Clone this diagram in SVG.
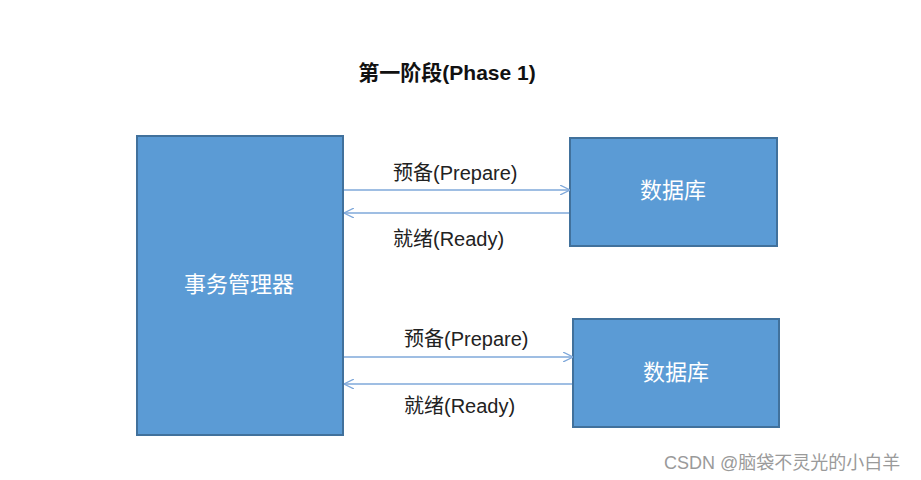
<svg xmlns="http://www.w3.org/2000/svg" width="921" height="480" viewBox="0 0 921 480">
<style>
.box{fill:#5B9BD5;stroke:#41719C;stroke-width:2}
.lbl{font-family:"Liberation Sans","Noto Sans CJK SC",sans-serif;font-size:22px;fill:#FFFFFF;text-anchor:middle}
.msg{font-family:"Liberation Sans","Noto Sans CJK SC",sans-serif;font-size:20px;fill:#222222}
.ln{stroke:#7FA8DA;stroke-width:1.5;fill:none}
</style>
<defs>
<marker id="ah" viewBox="0 0 10 10" refX="10" refY="5" markerWidth="10" markerHeight="10" markerUnits="userSpaceOnUse" orient="auto">
<path d="M0,0 L10,5 L0,10" fill="none" stroke="#7FA8DA" stroke-width="1.3"/>
</marker>
</defs>
<rect width="921" height="480" fill="#FFFFFF"/>
<text x="447" y="80" text-anchor="middle" font-family="Liberation Sans,'Noto Sans CJK SC',sans-serif" font-size="21" font-weight="bold" fill="#111111">第一阶段(Phase 1)</text>
<g id="tm"><rect class="box" x="137" y="136" width="206" height="299"/><text class="lbl" x="239" y="292">事务管理器</text></g>
<g id="db1"><rect class="box" x="570" y="138" width="207" height="108"/><text class="lbl" x="673" y="198">数据库</text></g>
<g id="db2"><rect class="box" x="573" y="319" width="206" height="108"/><text class="lbl" x="676" y="380">数据库</text></g>
<g id="connectors">
<line class="ln" x1="344" y1="190" x2="570" y2="190" marker-end="url(#ah)"/>
<line class="ln" x1="569" y1="213" x2="344" y2="213" marker-end="url(#ah)"/>
<line class="ln" x1="344" y1="357" x2="573" y2="357" marker-end="url(#ah)"/>
<line class="ln" x1="572" y1="384" x2="344" y2="384" marker-end="url(#ah)"/>
<text class="msg" x="393" y="180">预备(Prepare)</text>
<text class="msg" x="393" y="246">就绪(Ready)</text>
<text class="msg" x="404" y="346">预备(Prepare)</text>
<text class="msg" x="404" y="413">就绪(Ready)</text>
</g>
<text x="664" y="469" font-family="Liberation Sans,'Noto Sans CJK SC',sans-serif" font-size="18" fill="#9A9A9A">CSDN @脑袋不灵光的小白羊</text>
</svg>
